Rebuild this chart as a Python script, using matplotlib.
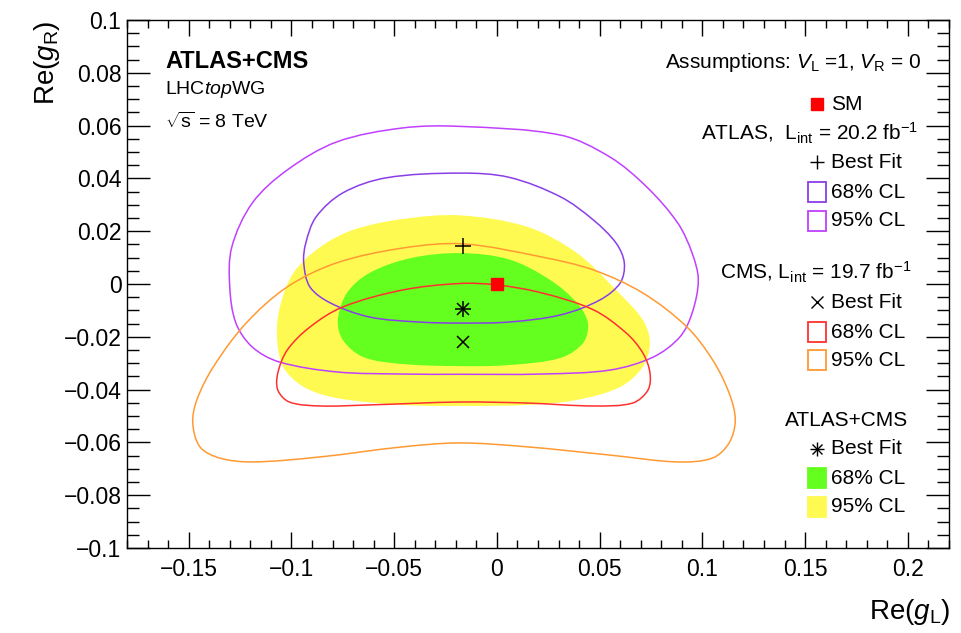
import numpy as np
import matplotlib
matplotlib.use("Agg")
import matplotlib.pyplot as plt
from matplotlib.path import Path
from matplotlib.patches import PathPatch, Rectangle
from matplotlib.lines import Line2D

plt.rcParams['font.family'] = ['Liberation Sans', 'DejaVu Sans']
plt.rcParams['mathtext.fontset'] = 'custom'
plt.rcParams['mathtext.rm'] = 'Liberation Sans'
plt.rcParams['mathtext.it'] = 'Liberation Sans:italic'
plt.rcParams['mathtext.bf'] = 'Liberation Sans:bold'

# ---------------- data (contour vertices) ----------------
atlas95_x = [-0.018, 0.031, 0.055, 0.073, 0.088, 0.095, 0.098, 0.095, 0.089, 0.076, 0.055,
             0.022, -0.018, -0.046, -0.078, -0.106, -0.119, -0.127, -0.130, -0.129, -0.119, -0.102,
             -0.078, -0.046]
atlas95_y = [0.0597, 0.0564, 0.0481, 0.0367, 0.0231, 0.0117, 0.0015, -0.0110, -0.0201, -0.0277,
             -0.0326, -0.0341, -0.0342, -0.0341, -0.0333, -0.0295, -0.0239, -0.0148, -0.0011, 0.0140,
             0.0307, 0.0432, 0.0538, 0.0591]

atlas68_x = [-0.018, 0.006, 0.031, 0.047, 0.058, 0.062, 0.060, 0.050, 0.031, 0.006, -0.018, -0.038,
             -0.062, -0.081, -0.091, -0.094, -0.093, -0.088, -0.075, -0.054]
atlas68_y = [0.0420, 0.0404, 0.0330, 0.0242, 0.0155, 0.0080, 0.0004, -0.0061, -0.0117, -0.0144, -0.0148,
             -0.0144, -0.0125, -0.0072, -0.0011, 0.0080, 0.0155, 0.0254, 0.0345, 0.0402]

cms68_x = [-0.018, 0.0005, 0.022, 0.047, 0.063, 0.071, 0.0745, 0.0735, 0.066, 0.047, 0.015, -0.018,
           -0.062, -0.086, -0.101, -0.1066, -0.1066, -0.102, -0.091, -0.075, -0.046]
cms68_y = [0.0002, -0.0004, -0.0034, -0.0098, -0.0186, -0.0261, -0.0337, -0.0402, -0.0451, -0.0462,
           -0.0451, -0.0447, -0.0458, -0.0462, -0.0447, -0.0402, -0.0337, -0.0250, -0.0163,
           -0.0087, -0.0023]

cms95_x = [-0.0165, 0.022, 0.047, 0.071, 0.0925, 0.105, 0.113, 0.116, 0.113, 0.105, 0.088,
           0.055, 0.015, -0.018, -0.046, -0.086, -0.119, -0.135, -0.1445, -0.148, -0.146, -0.138,
           -0.122, -0.102, -0.078, -0.046]
cms95_y = [0.0152, 0.0102, 0.0053, -0.0034, -0.0163, -0.0288, -0.0413, -0.0515, -0.0602,
           -0.0659, -0.0674, -0.0648, -0.0617, -0.0602, -0.0617, -0.0655, -0.0674, -0.0659, -0.0617,
           -0.0527, -0.0439, -0.0314, -0.0148, -0.0011, 0.0080, 0.0136]

comb95_x = [-0.018, 0.015, 0.039, 0.058, 0.071, 0.0745, 0.071, 0.060, 0.039, 0.015, -0.018, -0.046,
            -0.078, -0.094, -0.104, -0.107, -0.1056, -0.099, -0.086, -0.070, -0.046]
comb95_y = [0.0260, 0.0216, 0.0117, -0.0023, -0.0136, -0.0223, -0.0314, -0.0390, -0.0439, -0.0458,
            -0.0462, -0.0458, -0.0432, -0.0390, -0.0314, -0.0201, -0.0087, 0.0042, 0.0140, 0.0205, 0.0246]

comb68_x = [-0.018, 0.006, 0.026, 0.039, 0.0443, 0.042, 0.031, 0.006, -0.018, -0.046, -0.065, -0.075,
            -0.0774, -0.073, -0.062, -0.042]
comb68_y = [0.0117, 0.0093, 0.0015, -0.0072, -0.0148, -0.0223, -0.0280, -0.0307, -0.0311, -0.0303,
            -0.0277, -0.0212, -0.0136, -0.0034, 0.0042, 0.0098]

sm_point = (0.0, 0.0)
atlas_best = (-0.0165, 0.0144)
cms_best = (-0.0165, -0.022)
comb_best = (-0.0165, -0.0095)

xticks = [-0.15, -0.1, -0.05, 0.0, 0.05, 0.1, 0.15, 0.2]
xticklabels = ['\u22120.15', '\u22120.1', '\u22120.05', '0', '0.05', '0.1', '0.15', '0.2']
yticks = [-0.1, -0.08, -0.06, -0.04, -0.02, 0.0, 0.02, 0.04, 0.06, 0.08, 0.1]
yticklabels = ['\u22120.1', '\u22120.08', '\u22120.06', '\u22120.04', '\u22120.02', '0',
               '0.02', '0.04', '0.06', '0.08', '0.1']

# ---------------- colours ----------------
C_A95 = '#c040ff'
C_A68 = '#8a3ee8'
C_C68 = '#ff3030'
C_C95 = '#ff9a33'
C_G = '#64ff1e'
C_Y = '#fffa52'

SX, SY = 2055.0, 2640.0  # display scale, used only for smoothing weights


def closed_path(xs, ys):
    P = np.column_stack([xs, ys]).astype(float)
    n = len(P)
    Q = P * np.array([SX, SY])
    d = np.array([np.linalg.norm(Q[(i + 1) % n] - Q[i]) for i in range(n)])
    m = np.zeros_like(P)
    for i in range(n):
        m[i] = (P[(i + 1) % n] - P[i - 1]) / (d[i - 1] + d[i])
    verts = [P[0]]
    codes = [Path.MOVETO]
    for i in range(n):
        j = (i + 1) % n
        c1 = P[i] + m[i] * d[i] / 3.0
        c2 = P[j] - m[j] * d[i] / 3.0
        verts += [c1, c2, P[j]]
        codes += [Path.CURVE4] * 3
    verts.append(P[0])
    codes.append(Path.CLOSEPOLY)
    return Path(np.array(verts), codes)


W, H = 962, 633
fig = plt.figure(figsize=(W / 100, H / 100), dpi=100)
ax = fig.add_axes([127 / W, (H - 548) / H, 822 / W, 528 / H])
ax.set_xlim(-0.18, 0.22)
ax.set_ylim(-0.1, 0.1)

# fills
ax.add_patch(PathPatch(closed_path(comb95_x, comb95_y), facecolor=C_Y, edgecolor='none', zorder=1))
ax.add_patch(PathPatch(closed_path(comb68_x, comb68_y), facecolor=C_G, edgecolor='none', zorder=2))
# lines
for xs, ys, c in [(atlas95_x, atlas95_y, C_A95), (atlas68_x, atlas68_y, C_A68),
                  (cms95_x, cms95_y, C_C95), (cms68_x, cms68_y, C_C68)]:
    ax.add_patch(PathPatch(closed_path(xs, ys), facecolor='none', edgecolor=c, lw=1.1, zorder=3))

# markers
ax.plot(*atlas_best, marker='+', ms=11, mew=1.1, color='black', zorder=5)
ax.plot(*cms_best, marker='x', ms=9, mew=1.1, color='black', zorder=5)
ax.plot(*comb_best, marker='+', ms=11, mew=1.1, color='black', zorder=5)
ax.plot(*comb_best, marker='x', ms=8, mew=1.1, color='black', zorder=5)
ax.plot(*sm_point, marker='s', ms=8, color='#ff0000', mec='#ff0000', zorder=6)

# ticks
ax.set_xticks(xticks)
ax.set_xticklabels(xticklabels)
ax.set_yticks(yticks)
ax.set_yticklabels(yticklabels)
ax.set_xticks(np.arange(-0.18, 0.2201, 0.01), minor=True)
ax.set_yticks(np.arange(-0.1, 0.1001, 0.005), minor=True)
ax.tick_params(which='both', direction='in', top=True, right=True, labelsize=16.5, width=1.0)
ax.xaxis.set_tick_params(which='major', length=11.5, pad=7)
ax.xaxis.set_tick_params(which='minor', length=6)
ax.yaxis.set_tick_params(which='major', length=16.5, pad=4)
ax.yaxis.set_tick_params(which='minor', length=8.5)
for s in ax.spines.values():
    s.set_linewidth(1.0)


def F(x, y):
    return (x / W, 1 - y / H)


# axis labels
fig.text(*F(47, 20), r'Re($g_{\mathrm{R}}$)', rotation=90, ha='center', va='top', fontsize=20)
fig.text(*F(950, 612), r'Re($g_{\mathrm{L}}$)', ha='right', va='center', fontsize=20)

# top-left texts
fig.text(*F(165, 61), 'ATLAS+CMS', fontsize=17, fontweight='bold', ha='left', va='center')
fig.text(*F(165, 90), r'LHC$\mathit{top}$WG', fontsize=14, ha='left', va='center')
fig.text(*F(165, 122), r'$\sqrt{\mathrm{s}}$ = 8 TeV', fontsize=14, ha='left', va='center')

# legend
fig.text(*F(922, 62), r'Assumptions: $V_{\mathrm{L}}$ =1, $V_{\mathrm{R}}$ = 0', fontsize=15,
         ha='right', va='center')

mx = 817
tx = 831
fs = 15
fig.add_artist(Line2D([F(mx, 0)[0]], [F(0, 104)[1]], marker='s', ms=8, color='#ff0000', ls='none'))
fig.text(*F(tx, 104), 'SM', fontsize=fs, ha='left', va='center')
fig.text(*F(918, 133), r'ATLAS,  L$_{\mathrm{int}}$ = 20.2 fb$^{-1}$', fontsize=fs, ha='right', va='center')
fig.add_artist(Line2D([F(mx, 0)[0]], [F(0, 162)[1]], marker='+', ms=10, mew=1.0, color='black', ls='none'))
fig.text(*F(tx, 162), 'Best Fit', fontsize=fs, ha='left', va='center')


def box(y, ec, fc='none'):
    x0, y0 = F(808, y + 10)
    fig.add_artist(Rectangle((x0, y0), 18 / W, 20 / H, transform=fig.transFigure,
                             facecolor=fc, edgecolor=ec, lw=1.3))


box(192, C_A68)
fig.text(*F(tx, 192), '68% CL', fontsize=fs, ha='left', va='center')
box(221, C_A95)
fig.text(*F(tx, 221), '95% CL', fontsize=fs, ha='left', va='center')

fig.text(*F(912, 272), r'CMS, L$_{\mathrm{int}}$ = 19.7 fb$^{-1}$', fontsize=fs, ha='right', va='center')
fig.add_artist(Line2D([F(mx, 0)[0]], [F(0, 302)[1]], marker='x', ms=8, mew=1.0, color='black', ls='none'))
fig.text(*F(tx, 302), 'Best Fit', fontsize=fs, ha='left', va='center')
box(332, C_C68)
fig.text(*F(tx, 332), '68% CL', fontsize=fs, ha='left', va='center')
box(360, C_C95)
fig.text(*F(tx, 360), '95% CL', fontsize=fs, ha='left', va='center')

fig.text(*F(908, 421), 'ATLAS+CMS', fontsize=fs, ha='right', va='center')
fig.add_artist(Line2D([F(mx, 0)[0]], [F(0, 449)[1]], marker='+', ms=10, mew=1.0, color='black', ls='none'))
fig.add_artist(Line2D([F(mx, 0)[0]], [F(0, 449)[1]], marker='x', ms=7, mew=1.0, color='black', ls='none'))
fig.text(*F(tx, 449), 'Best Fit', fontsize=fs, ha='left', va='center')
box(478, C_G, C_G)
fig.text(*F(tx, 478), '68% CL', fontsize=fs, ha='left', va='center')
box(507, C_Y, C_Y)
fig.text(*F(tx, 507), '95% CL', fontsize=fs, ha='left', va='center')

fig.savefig('out.png', dpi=100)
